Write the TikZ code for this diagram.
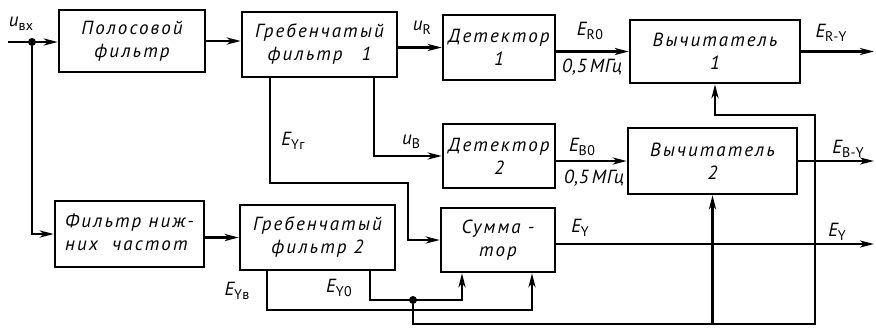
\documentclass[tikz,border=0pt]{standalone}
\usepackage{fontspec}
\setmainfont{PT Sans}[LetterSpace=11]
\newfontfamily\labfont{PT Sans}[LetterSpace=3]
\usetikzlibrary{arrows.meta,calc}

% signal name: italic letter with an upright subscript
\newcommand{\sig}[2]{{\itshape #1}\raisebox{-0.45ex}{\fontsize{14}{14}\selectfont\upshape #2}}

\begin{document}
\begin{tikzpicture}[x=1pt,y=-1pt,
  blk/.style={draw, line width=2.4pt, align=center, inner sep=0pt,
    font=\fontsize{19}{23}\selectfont\itshape},
  wire/.style={line width=2.4pt},
  arr/.style={wire, -{Stealth[length=14pt,width=7pt,inset=4pt]}},
  lbl/.style={inner sep=0pt, font=\labfont\fontsize{19}{19}\selectfont},
  jdot/.style={circle, fill, inner sep=0pt, minimum size=8pt}]
\useasboundingbox (0,0) rectangle (876,330);

% blocks
\node[blk, minimum width=146pt, minimum height=62pt] (pf)   at (132,41)    {Полосовой\\фильтр};
\node[blk, minimum width=155pt, minimum height=65pt] (gf1)  at (319.5,44.5) {Гребенчатый\\фильтр\quad 1};
\node[blk, minimum width=112pt, minimum height=65pt] (det1) at (499,47.5)  {Детектор\\1};
\node[blk, minimum width=170pt, minimum height=63pt] (vy1)  at (715,51.5)  {Вычитатель\\1};
\node[blk, minimum width=112pt, minimum height=64pt] (det2) at (499,156)   {Детектор\\2};
\node[blk, minimum width=169pt, minimum height=66pt] (vy2)  at (712.5,161) {Вычитатель\\2};
\node[blk, minimum width=149pt, minimum height=66pt] (fnch) at (129.5,234) {\begin{tabular}{@{}l@{}}Фильтр ниж-\\них\ \ частот\end{tabular}};
\node[blk, minimum width=155pt, minimum height=65pt] (gf2)  at (317.5,237.5) {Гребенчатый\\фильтр 2};
\node[blk, minimum width=114pt, minimum height=64pt] (sum)  at (498,240)   {Сумма -\\тор};

% junctions and bend points
\coordinate (in) at (8,42);
\coordinate (rt) at (874,0);
\node[jdot] (j1) at (32,42) {};
\coordinate (yg) at (408,183);
\coordinate (yb) at (532,310);
\coordinate (y0) at (462,300);
\node[jdot] (j2) at (413,300) {};
\coordinate (c1) at (815,324);
\coordinate (c2) at (815,115);

% input path
\draw[arr] (in) -- (in -| pf.west);
\draw[arr] (j1) |- (fnch.west);
\draw[arr] (pf.east) -- (pf.east -| gf1.west);
\draw[arr] (fnch.east |- gf2.west) -- (gf2.west);

% comb filter 1 outputs
\draw[arr] (gf1.east |- det1.west) -- (det1.west);
\draw[arr] ([xshift=-24pt]gf1.south east) |- (det2.west);
\draw[arr] ([xshift=-49.5pt]gf1.south) |- (yg) |- (sum.west);

% detectors to subtractors and outputs
\draw[arr] (det1.east |- vy1.west) -- (vy1.west);
\draw[arr] (det2.east |- vy2.west) -- (vy2.west);
\draw[arr] (vy1.east) -- (vy1.east -| rt);
\draw[arr] (vy2.east) -- (vy2.east -| rt);
\draw[arr] ([yshift=-4pt]sum.east) -- ([yshift=-4pt]sum.east -| rt);

% comb filter 2 outputs
\draw[arr] ([xshift=-50.5pt]gf2.south) |- (yb) -- (yb |- sum.south);
\draw[arr] ([xshift=52.5pt]gf2.south) |- (y0) -- (y0 |- sum.south);
\draw[arr] (j2) |- (c1) -- (c2) -| (vy1.south);
\draw[arr] (vy2.south |- c1) -- (vy2.south);

% labels
\node[lbl] (l1)  at (21,24)   {\sig{u}{вх}};
\node[lbl] (l2)  at (422,28)  {\sig{u}{R}};
\node[lbl] (l3)  at (411,142) {\sig{u}{B}};
\node[lbl] (l4)  at (293,141) {\sig{E}{Yг}};
\node[lbl] (l5)  at (590,31)  {\sig{E}{R0}};
\node[lbl] (l6)  at (592,67)  {\itshape 0,5\,МГц};
\node[lbl] (l7)  at (582,147) {\sig{E}{B0}};
\node[lbl] (l8)  at (594,178) {\itshape 0,5\,МГц};
\node[lbl] (l9)  at (831,33)  {\sig{E}{R-Y}};
\node[lbl] (l10) at (848,149) {\sig{E}{B-Y}};
\node[lbl] (l11) at (580,228) {\sig{E}{Y}};
\node[lbl] (l12) at (837,232) {\sig{E}{Y}};
\node[lbl] (l13) at (237,291) {\sig{E}{Yв}};
\node[lbl] (l14) at (339,288) {\sig{E}{Y0}};
\end{tikzpicture}
\end{document}
